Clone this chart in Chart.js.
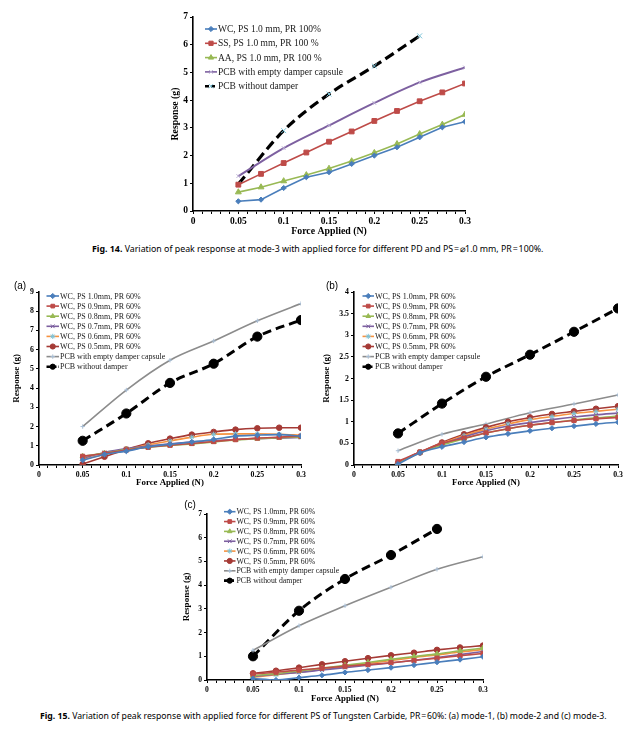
<!DOCTYPE html>
<html>
<head>
<meta charset="utf-8">
<script src="https://cdn.jsdelivr.net/npm/chart.js@4.4.0/dist/chart.umd.min.js"></script>
<style>
body{margin:0;background:#fff;width:640px;height:736px;position:relative;overflow:hidden}
canvas{position:absolute}
.lbl{position:absolute;font-family:'Liberation Sans',Arial,sans-serif;font-size:10px;color:#000;transform:translate(-50%,-50%)}
.cap{position:absolute;font-family:'Noto Sans','Liberation Sans',sans-serif;font-size:8.5px;white-space:nowrap;transform-origin:0 50%;color:#000;line-height:1}
</style>
</head>
<body>
<canvas id="c14" width="316" height="230" style="left:163px;top:9px"></canvas>
<canvas id="ca" width="315" height="207" style="left:0px;top:284px"></canvas>
<canvas id="cb" width="316" height="207" style="left:316px;top:284px"></canvas>
<canvas id="cc" width="320" height="200" style="left:177px;top:506px"></canvas>

<div class="lbl" style="left:20px;top:285px">(a)</div>
<div class="lbl" style="left:332px;top:285px">(b)</div>
<div class="lbl" style="left:190px;top:504px">(c)</div>

<div class="cap" id="cap14" data-w="451" style="left:92px;top:245px"><b>Fig. 14.</b> Variation of peak response at mode-3 with applied force for different PD and PS&#8202;=&#8202;⌀1.0 mm, PR&#8202;=&#8202;100%.</div>
<div class="cap" id="cap15" data-w="567" style="left:40px;top:712px"><b>Fig. 15.</b> Variation of peak response with applied force for different PS of Tungsten Carbide, PR&#8202;=&#8202;60%: (a) mode-1, (b) mode-2 and (c) mode-3.</div>

<script>
// x positions of the measurements
const xFine = [0.05, 0.075, 0.1, 0.125, 0.15, 0.175, 0.2, 0.225, 0.25, 0.275, 0.3];
const xCoarse = [0.05, 0.1, 0.15, 0.2, 0.25, 0.3];
const xMajorTicks = [0, 0.05, 0.1, 0.15, 0.2, 0.25, 0.3];

// Fig. 14 - mode-3, PS 1.0 mm, PR 100%
const f14WC = [0.35, 0.41, 0.83, 1.22, 1.40, 1.70, 2.00, 2.30, 2.66, 3.02, 3.22];
const f14SS = [0.95, 1.34, 1.73, 2.11, 2.50, 2.87, 3.25, 3.61, 3.96, 4.28, 4.60];
const f14AA = [0.68, 0.86, 1.08, 1.30, 1.53, 1.80, 2.10, 2.42, 2.78, 3.12, 3.48];
const f14Empty = [1.26, 2.27, 3.09, 3.90, 4.64, 5.18];
const f14NoDamper = [0.97, 2.90, 4.22, 5.23, 6.32];

// Fig. 15(a) - mode-1
const aPS10 = [0.25, 0.55, 0.72, 0.95, 1.08, 1.20, 1.33, 1.50, 1.55, 1.58, 1.50];
const aPS09 = [0.45, 0.60, 0.78, 0.92, 1.03, 1.12, 1.22, 1.32, 1.40, 1.45, 1.50];
const aPS08 = [0.45, 0.62, 0.80, 0.92, 1.02, 1.10, 1.20, 1.30, 1.37, 1.42, 1.45];
const aPS07 = [0.35, 0.65, 0.85, 0.98, 1.10, 1.20, 1.27, 1.33, 1.37, 1.40, 1.43];
const aPS06 = [0.30, 0.55, 0.80, 1.05, 1.25, 1.45, 1.60, 1.62, 1.62, 1.60, 1.55];
const aPS05 = [0.05, 0.43, 0.81, 1.13, 1.37, 1.58, 1.72, 1.84, 1.91, 1.94, 1.94];
const aEmpty = [2.0, 3.9, 5.45, 6.45, 7.5, 8.4];
const aNoDamper = [1.26, 2.68, 4.27, 5.27, 6.68, 7.54];

// Fig. 15(b) - mode-2
const bPS10 = [0.02, 0.28, 0.42, 0.53, 0.64, 0.72, 0.79, 0.85, 0.90, 0.95, 0.99];
const bPS09 = [0.08, 0.30, 0.50, 0.62, 0.74, 0.84, 0.92, 0.98, 1.03, 1.07, 1.10];
const bPS08 = [0.05, 0.29, 0.46, 0.61, 0.74, 0.84, 0.92, 0.98, 1.04, 1.09, 1.13];
const bPS07 = [0.05, 0.30, 0.48, 0.65, 0.79, 0.90, 0.98, 1.05, 1.11, 1.16, 1.20];
const bPS06 = [0.05, 0.30, 0.50, 0.68, 0.83, 0.95, 1.05, 1.12, 1.19, 1.24, 1.29];
const bPS05 = [0.04, 0.29, 0.52, 0.71, 0.87, 1.00, 1.10, 1.18, 1.24, 1.30, 1.36];
const bEmpty = [0.33, 0.71, 0.95, 1.21, 1.41, 1.62];
const bNoDamper = [0.73, 1.42, 2.04, 2.55, 3.08, 3.62];

// Fig. 15(c) - mode-3
const cPS10 = [0.06, 0.0, 0.10, 0.20, 0.32, 0.42, 0.52, 0.63, 0.75, 0.86, 0.98];
const cPS09 = [0.25, 0.33, 0.42, 0.50, 0.58, 0.65, 0.73, 0.82, 0.92, 1.02, 1.12];
const cPS08 = [0.18, 0.27, 0.38, 0.50, 0.62, 0.74, 0.87, 0.99, 1.10, 1.23, 1.35];
const cPS07 = [0.15, 0.24, 0.32, 0.42, 0.52, 0.62, 0.72, 0.83, 0.95, 1.07, 1.20];
const cPS06 = [0.12, 0.22, 0.33, 0.45, 0.57, 0.70, 0.82, 0.95, 1.06, 1.18, 1.28];
const cPS05 = [0.28, 0.39, 0.52, 0.66, 0.79, 0.92, 1.04, 1.15, 1.27, 1.37, 1.45];
const cEmpty = [1.25, 2.29, 3.13, 3.91, 4.67, 5.20];
const cNoDamper = [1.00, 2.92, 4.26, 5.27, 6.37];

const psLabels = ['WC, PS 1.0mm, PR 60%', 'WC, PS 0.9mm, PR 60%', 'WC, PS 0.8mm, PR 60%',
  'WC, PS 0.7mm, PR 60%', 'WC, PS 0.6mm, PR 60%', 'WC, PS 0.5mm, PR 60%',
  'PCB with empty damper capsule', 'PCB without damper'];

const SERIF = "'Liberation Serif', 'Times New Roman', serif";

// styles
const stBlue = {borderColor: '#4a7ebb', backgroundColor: '#4a7ebb', pointStyle: 'rectRot', pointRadius: 2.6, borderWidth: 1.6};
const stRed = {borderColor: '#be4b48', backgroundColor: '#be4b48', pointStyle: 'rect', pointRadius: 3, borderWidth: 1.6};
const stGreen = {borderColor: '#98b954', backgroundColor: '#98b954', pointStyle: 'triangle', pointRadius: 3, borderWidth: 1.6};
const stPurple = {borderColor: '#7d60a0', backgroundColor: '#7d60a0', pointStyle: 'crossRot', pointRadius: 2.6, borderWidth: 1.6};
const stOrange = {borderColor: '#f69240', backgroundColor: '#4bacc6', pointBorderColor: '#7cc3d8', pointStyle: 'star', pointRadius: 2.6, borderWidth: 1.6};
const stDarkRed = {borderColor: '#a53a35', backgroundColor: '#a53a35', pointStyle: 'circle', pointRadius: 2.8, borderWidth: 1.6};
const stGray = {borderColor: '#8c8c8c', backgroundColor: '#8c8c8c', pointBorderColor: '#a9bfd6', pointStyle: 'cross', pointRadius: 2.2, borderWidth: 1.6, cubicInterpolationMode: 'monotone'};
const stBlack = {borderColor: '#000', backgroundColor: '#000', pointStyle: 'circle', pointRadius: 4.6, borderWidth: 3, borderDash: [9, 5], cubicInterpolationMode: 'monotone'};

function series(label, xs, ys, st, extra) {
  return Object.assign({label: label, data: ys.map((y, i) => ({x: xs[i], y: y})),
    pointBorderWidth: 1, tension: 0}, st, extra || {});
}

// legend drawn inside the plot, line + marker + text
const innerLegend = {
  id: 'innerLegend',
  afterDraw(chart, args, o) {
    if (!o || o.x === undefined) return;
    const ctx = chart.ctx;
    ctx.save();
    ctx.font = o.font;
    ctx.textBaseline = 'middle';
    chart.data.datasets.forEach((d, i) => {
      const y = o.y + i * o.row;
      ctx.strokeStyle = d.borderColor;
      ctx.lineWidth = d.borderDash ? 2.6 : 1.6;
      ctx.setLineDash(d.borderDash ? [4, 2] : []);
      ctx.beginPath(); ctx.moveTo(o.x, y); ctx.lineTo(o.x + o.w, y); ctx.stroke();
      ctx.setLineDash([]);
      ctx.fillStyle = d.backgroundColor;
      ctx.strokeStyle = d.pointBorderColor || d.borderColor;
      ctx.lineWidth = 1;
      Chart.helpers.drawPoint(ctx, {pointStyle: d.pointStyle, rotation: 0,
        radius: Math.min(d.pointRadius, o.pr || 3), borderWidth: 1}, o.x + o.w / 2, y);
      ctx.fillStyle = '#1a1a1a';
      ctx.fillText(d.label, o.x + o.w + 1, y + 0.5);
    });
    ctx.restore();
  }
};

const isMajor = v => xMajorTicks.some(t => Math.abs(t - v) < 1e-9);
const xAllTicks = [];
for (let k = 0; k <= 30; k++) xAllTicks.push(k / 100);

function makeChart(id, datasets, o) {
  return new Chart(document.getElementById(id), {
    type: 'line',
    data: {datasets: datasets},
    plugins: [innerLegend],
    options: {
      responsive: false, animation: false, devicePixelRatio: 1,
      layout: {padding: {top: 8, right: 14, left: 0, bottom: 0}},
      plugins: {legend: {display: false}, tooltip: {enabled: false}, innerLegend: o.legend},
      scales: {
        x: {
          type: 'linear', min: 0, max: 0.3,
          afterBuildTicks: s => { s.ticks = xAllTicks.map(v => ({value: v})); },
          afterFit: s => { s.height = o.xH; },
          grid: {display: true, drawOnChartArea: false, drawTicks: true, tickLength: 3, color: '#000', lineWidth: 1},
          border: {display: true, color: '#000', width: 1.6},
          ticks: {autoSkip: false, maxRotation: 0, padding: 2, color: '#000',
            font: {family: SERIF, size: o.tick, weight: 'bold'},
            callback: v => isMajor(v) ? String(Math.round(v * 100) / 100) : ''},
          title: {display: true, text: 'Force Applied (N)', color: '#000',
            font: {family: SERIF, size: o.xt, weight: 'bold'}, padding: {top: 0, bottom: o.xtPad}}
        },
        y: {
          min: 0, max: o.ymax,
          afterFit: s => { s.width = o.yW; },
          grid: {display: true, drawOnChartArea: false, drawTicks: true, tickLength: 3, color: '#000', lineWidth: 1},
          border: {display: true, color: '#000', width: 1.6},
          ticks: {stepSize: o.ystep, padding: 2, color: '#000',
            font: {family: SERIF, size: o.tick, weight: 'bold'},
            callback: v => String(Math.round(v * 10) / 10)},
          title: {display: true, text: 'Response (g)', color: '#000',
            font: {family: SERIF, size: o.yt, weight: 'bold'}, padding: {top: o.ytPad, bottom: 0}}
        }
      }
    }
  });
}

// Fig. 14
makeChart('c14', [
  series('WC, PS 1.0 mm, PR 100%', xFine, f14WC, stBlue),
  series('SS, PS 1.0 mm, PR 100 %', xFine, f14SS, stRed, {pointRadius: 3.4}),
  series('AA, PS 1.0 mm, PR 100 %', xFine, f14AA, stGreen, {pointRadius: 3.4}),
  series('PCB with empty damper capsule', xCoarse, f14Empty, stPurple,
    {pointBorderColor: '#b9acd3', cubicInterpolationMode: 'monotone', borderWidth: 2}),
  series('PCB without damper', xCoarse, f14NoDamper, stBlack,
    {pointStyle: 'crossRot', pointRadius: 3.5, pointBorderColor: '#7cc3d8', borderWidth: 3.2, borderDash: [10, 5]})
], {xH: 28, yW: 30, ymax: 7, ystep: 1, tick: 9.5, xt: 9.8, yt: 9.8, xtPad: 2, ytPad: 7,
  legend: {x: 42, y: 20, row: 14.3, w: 12, font: '9.5px ' + SERIF, pr: 3}});

function psSet(xsF, xsC, d) {
  return [
    series(psLabels[0], xsF, d[0], stBlue),
    series(psLabels[1], xsF, d[1], stRed),
    series(psLabels[2], xsF, d[2], stGreen),
    series(psLabels[3], xsF, d[3], stPurple),
    series(psLabels[4], xsF, d[4], stOrange),
    series(psLabels[5], xsF, d[5], stDarkRed),
    series(psLabels[6], xsC, d[6], stGray),
    series(psLabels[7], xsC, d[7], stBlack)
  ].map((s, i) => i < 6 ? Object.assign(s, {cubicInterpolationMode: 'monotone'}) : s);
}

makeChart('ca', psSet(xFine, xCoarse, [aPS10, aPS09, aPS08, aPS07, aPS06, aPS05, aEmpty, aNoDamper]),
  {xH: 26, yW: 39, ymax: 9, ystep: 1, tick: 7.8, xt: 8.8, yt: 9, xtPad: 3, ytPad: 11.5,
   legend: {x: 46.5, y: 12, row: 10.1, w: 12.5, font: '8px ' + SERIF, pr: 2.6}});

makeChart('cb', psSet(xFine, xCoarse, [bPS10, bPS09, bPS08, bPS07, bPS06, bPS05, bEmpty, bNoDamper]),
  {xH: 26, yW: 38, ymax: 4, ystep: 0.5, tick: 7.8, xt: 8.8, yt: 9, xtPad: 3, ytPad: 5.5,
   legend: {x: 46.5, y: 12, row: 10.1, w: 11.5, font: '8px ' + SERIF, pr: 2.6}});

makeChart('cc', psSet(xFine, xCoarse, [cPS10, cPS09, cPS08, cPS07, cPS06, cPS05, cEmpty, cNoDamper]),
  {xH: 26, yW: 30, ymax: 7, ystep: 1, tick: 7.6, xt: 8.8, yt: 9, xtPad: 2, ytPad: 4.5,
   legend: {x: 47, y: 5.7, row: 9.85, w: 11.5, font: '7.8px ' + SERIF, pr: 2.6}});

// stretch captions to the width they take in the figure
document.querySelectorAll('.cap').forEach(el => {
  const w = +el.dataset.w;
  el.style.transform = 'scaleX(' + (w / el.offsetWidth) + ')';
});
</script>
</body>
</html>
